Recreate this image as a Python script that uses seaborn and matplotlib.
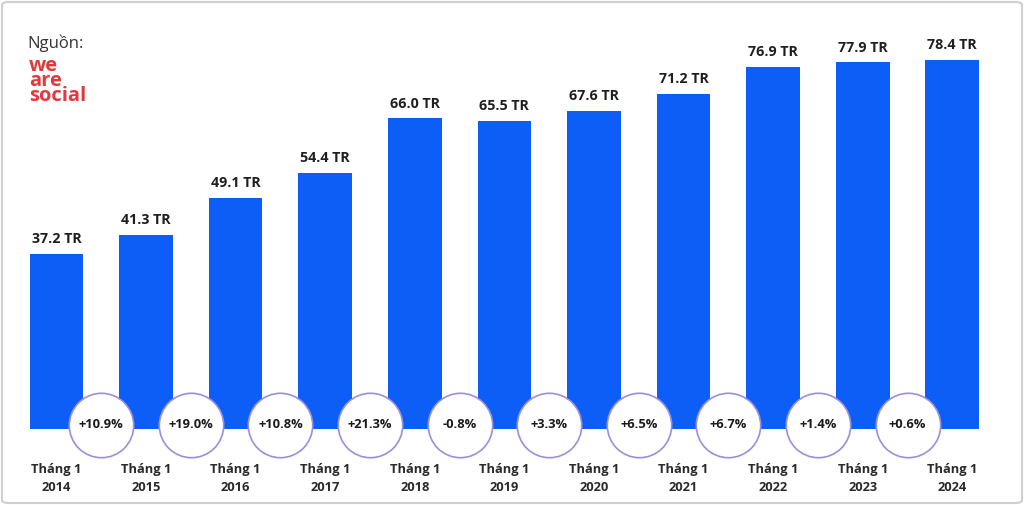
import matplotlib
matplotlib.use("Agg")
import matplotlib.pyplot as plt
import seaborn as sns
import pandas as pd
from matplotlib.patches import FancyBboxPatch

years = ["2014", "2015", "2016", "2017", "2018", "2019", "2020", "2021", "2022", "2023", "2024"]
values = [37.2, 41.3, 49.1, 54.4, 66.0, 65.5, 67.6, 71.2, 76.9, 77.9, 78.4]
value_labels = ["37.2 TR", "41.3 TR", "49.1 TR", "54.4 TR", "66.0 TR", "65.5 TR",
                "67.6 TR", "71.2 TR", "76.9 TR", "77.9 TR", "78.4 TR"]
changes = ["+10.9%", "+19.0%", "+10.8%", "+21.3%", "-0.8%", "+3.3%",
           "+6.5%", "+6.7%", "+1.4%", "+0.6%"]
month_label = "Tháng 1"

sns.set_theme(style="white")
plt.rcParams['font.family'] = ['Open Sans', 'DejaVu Sans']

fig = plt.figure(figsize=(10.24, 5.05), dpi=100)
ax = fig.add_axes([0, 0, 1, 1])

df = pd.DataFrame({"year": years, "value": values})
sns.barplot(data=df, x="year", y="value", color="#0D5EF6", saturation=1,
            width=0.6, ax=ax, edgecolor="none")

ax.set_xlim(-0.63, 10.80)
ax.set_ylim(-16.15, 91.14)
ax.axis("off")

n = len(years)
for i, (v, lab) in enumerate(zip(values, value_labels)):
    ax.text(i, v + 1.6, lab, ha="center", va="bottom", fontsize=10.3,
            fontweight="bold", color="#1f1f1f")
    ax.text(i, -8.7, month_label, ha="center", va="center",
            fontsize=9.3, fontweight="bold", color="#2a2a2a")
    ax.text(i, -12.4, years[i], ha="center", va="center",
            fontsize=9.3, fontweight="bold", color="#2a2a2a")

cx = [i + 0.5 for i in range(n - 1)]
cy = [0.95] * (n - 1)
ax.scatter(cx, cy, s=2150, facecolor="white", edgecolor="#9a8fdc",
           linewidth=1.2, zorder=5)
for x, y, t in zip(cx, cy, changes):
    ax.text(x, y, t, ha="center", va="center", fontsize=9.3,
            fontweight="bold", color="#1a1a1a", zorder=6)

fig.text(27 / 1024, 1 - 43 / 505, "Nguồn:", ha="left", va="center",
         fontsize=12, color="#333333")
fig.text(29 / 1024, 1 - 81 / 505, "we\nare\nsocial", ha="left", va="center",
         fontsize=14.5, fontweight="bold", color="#e0393e", linespacing=0.68)

border = FancyBboxPatch((2 / 1024, 2 / 505), 1 - 4 / 1024, 1 - 4 / 505,
                        boxstyle="round,pad=0,rounding_size=0.006",
                        transform=fig.transFigure, facecolor="none",
                        edgecolor="#cfcfcf", linewidth=1.5)
fig.patches.append(border)

fig.savefig("out.png", dpi=100, facecolor="white")
